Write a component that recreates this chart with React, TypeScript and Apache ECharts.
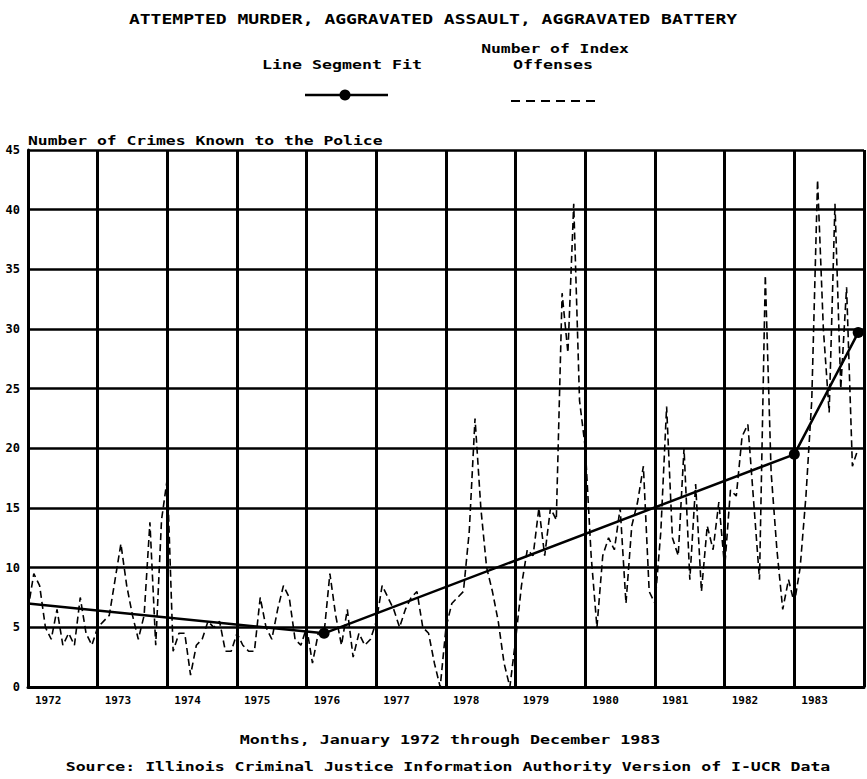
import React, { useEffect, useRef } from "react";
import * as echarts from "echarts";

const chartTitle = "ATTEMPTED MURDER, AGGRAVATED ASSAULT, AGGRAVATED BATTERY";
const fitLegendLabel = "Line Segment Fit";
const offenseLegendLabel1 = "Number of Index";
const offenseLegendLabel2 = "Offenses";
const yAxisTitle = "Number of Crimes Known to the Police";
const xAxisTitle = "Months, January 1972 through December 1983";
const sourceNote = "Source: Illinois Criminal Justice Information Authority Version of I-UCR Data";

const yearLabels = ["1972", "1973", "1974", "1975", "1976", "1977", "1978", "1979", "1980", "1981", "1982", "1983"];

// Monthly number of index offenses, January..December of each year
const offenses1972 = [6.5, 9.5, 8.5, 5, 4, 6.5, 3.5, 4.5, 3.5, 7.5, 4.5, 3.5];
const offenses1973 = [5, 5.5, 6, 9, 12, 8.5, 6, 4, 6, 13.8, 3.5, 14];
const offenses1974 = [17.5, 3, 4.5, 4.5, 1, 3.5, 4, 5.5, 5, 5.5, 3, 3];
const offenses1975 = [4.5, 3.5, 3, 3, 7.5, 5, 4, 6.5, 8.5, 7.5, 4, 3.5];
const offenses1976 = [5, 2, 4.5, 4.5, 9.5, 6, 3.5, 6.5, 2.5, 4.5, 3.5, 4];
const offenses1977 = [5.5, 8.5, 7.5, 6.5, 5, 6.5, 7.5, 8, 5, 4.5, 2, 0];
const offenses1978 = [5, 7, 7.5, 8, 13, 22.5, 15, 10, 8, 5.5, 2, 0];
const offenses1979 = [4, 8.5, 11.5, 11, 15, 11, 15, 14, 33, 28, 40.5, 24];
const offenses1980 = [20, 11, 5, 11, 12.5, 11.5, 15, 7, 13.5, 15.5, 18.5, 8];
const offenses1981 = [7, 13, 23.5, 12.5, 11, 20, 9, 17, 8, 13.5, 11.5, 15.5];
const offenses1982 = [10, 16.5, 16, 21, 22, 15.5, 9, 34.5, 18, 11.5, 6.5, 9];
const offenses1983 = [7, 10, 16, 24, 42.5, 30, 23, 40.5, 25, 33.5, 18.5, 20];

// Line segment fit: breakpoints (month index from Jan 1972) and fitted values
const fitMonths = [0, 51, 132, 143];
const fitValues = [7, 4.5, 19.5, 29.7];

const MONO = '"DejaVu Sans Mono", "Liberation Mono", monospace';

function txt(text: string, x: number, y: number, size: number, scaleX: number, align: string = "center", weight: string = "bold") {
  return {
    type: "text",
    x,
    y,
    scaleX,
    silent: true,
    style: {
      text,
      x: 0,
      y: 0,
      font: `${weight} ${size}px ${MONO}`,
      fill: "#000",
      align,
      textAlign: align,
      verticalAlign: "middle",
      textVerticalAlign: "middle",
    },
  };
}

export default function App() {
  const ref = useRef<HTMLDivElement>(null);

  useEffect(() => {
    if (!ref.current) return;
    const chart = echarts.init(ref.current, null, { renderer: "svg" });

    const monthly = [
      ...offenses1972, ...offenses1973, ...offenses1974, ...offenses1975,
      ...offenses1976, ...offenses1977, ...offenses1978, ...offenses1979,
      ...offenses1980, ...offenses1981, ...offenses1982, ...offenses1983,
    ];
    const offenseData = monthly.map((v, i) => [i, v]);
    const fitData = fitMonths.map((m, i) => ({
      value: [m, fitValues[i]],
      symbolSize: i === 0 ? 0 : 11,
    }));

    const option: any = {
      animation: false,
      backgroundColor: "#fff",
      grid: { left: 28, top: 150, width: 840, height: 537, containLabel: false },
      xAxis: {
        type: "value",
        min: 0,
        max: 144,
        interval: 12,
        axisLine: { show: true, lineStyle: { color: "#000", width: 3 } },
        axisTick: { show: false },
        splitLine: { show: true, lineStyle: { color: "#000", width: 3 } },
        axisLabel: {
          formatter: (v: number) => yearLabels[Math.round(v / 12)] ?? "",
          align: "left",
          padding: [0, 0, 0, 7],
          margin: 8,
          color: "#000",
          fontFamily: MONO,
          fontWeight: "bold",
          fontSize: 11,
        },
      },
      yAxis: {
        type: "value",
        min: 0,
        max: 45,
        interval: 5,
        axisLine: { show: true, lineStyle: { color: "#000", width: 3 } },
        axisTick: { show: false },
        splitLine: { show: true, lineStyle: { color: "#000", width: 2.5 } },
        axisLabel: {
          margin: 8,
          color: "#000",
          fontFamily: MONO,
          fontWeight: "bold",
          fontSize: 12,
        },
      },
      series: [
        {
          name: "Number of Index Offenses",
          type: "line",
          data: offenseData,
          symbol: "none",
          lineStyle: { color: "#000", width: 1.6, type: [7, 4] },
          z: 3,
        },
        {
          name: "Line Segment Fit",
          type: "line",
          data: fitData,
          symbol: "circle",
          showAllSymbol: true,
          itemStyle: { color: "#000" },
          lineStyle: { color: "#000", width: 2.5 },
          z: 4,
        },
      ],
      graphic: [
        txt(chartTitle, 433, 19, 14, 1.29),
        txt(offenseLegendLabel1, 555, 48, 13, 1.26),
        txt(fitLegendLabel, 342, 65, 13, 1.28),
        txt(offenseLegendLabel2, 553, 65, 13, 1.28),
        {
          type: "line",
          silent: true,
          shape: { x1: 305, y1: 95, x2: 388, y2: 95 },
          style: { stroke: "#000", lineWidth: 2.5 },
        },
        {
          type: "circle",
          silent: true,
          shape: { cx: 345, cy: 95, r: 5.5 },
          style: { fill: "#000" },
        },
        {
          type: "line",
          silent: true,
          shape: { x1: 511, y1: 101, x2: 600, y2: 101 },
          style: { stroke: "#000", lineWidth: 2, lineDash: [9, 6] },
        },
        txt(yAxisTitle, 28, 140, 13, 1.26, "left"),
        txt(xAxisTitle, 450, 740, 13, 1.28),
        txt(sourceNote, 448, 767, 13, 1.27),
      ],
    };

    chart.setOption(option);
    return () => chart.dispose();
  }, []);

  return (
    <div
      ref={ref}
      style={{ position: "fixed", left: 0, top: 0, width: 867, height: 779, background: "#fff" }}
    />
  );
}
